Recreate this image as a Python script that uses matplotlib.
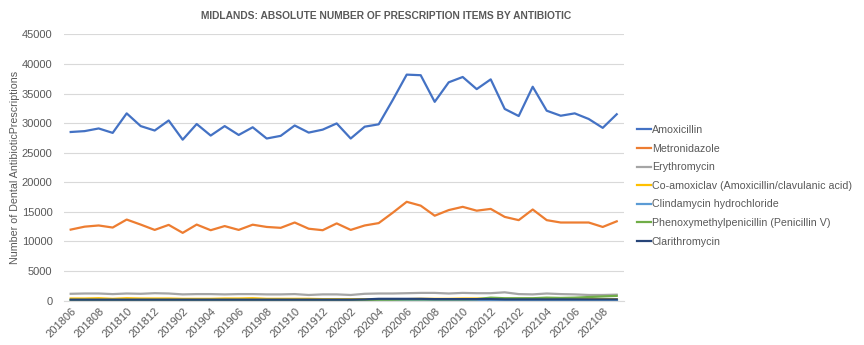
import matplotlib.pyplot as plt

# Months (YYYYMM) - Midlands dental antibiotic prescribing
months = ['201806', '201807', '201808', '201809', '201810', '201811', '201812', '201901',
          '201902', '201903', '201904', '201905', '201906', '201907', '201908', '201909',
          '201910', '201911', '201912', '202001', '202002', '202003', '202004', '202005',
          '202006', '202007', '202008', '202009', '202010', '202011', '202012', '202101',
          '202102', '202103', '202104', '202105', '202106', '202107', '202108', '202109']

amoxicillin = [28500, 28650, 29100, 28350, 31650, 29500, 28750, 30450, 27200, 29850,
               27900, 29500, 28000, 29300, 27400, 27850, 29600, 28400, 28900, 29950,
               27400, 29400, 29800, 33900, 38200, 38100, 33600, 36900, 37800, 35750,
               37400, 32400, 31200, 36150, 32100, 31250, 31650, 30700, 29200, 31500]
metronidazole = [12000, 12500, 12700, 12350, 13700, 12850, 11950, 12800, 11450, 12850,
                 11900, 12600, 11950, 12830, 12450, 12300, 13200, 12150, 11900, 13050,
                 11950, 12700, 13100, 14850, 16700, 16050, 14350, 15300, 15850, 15200,
                 15500, 14150, 13600, 15400, 13600, 13200, 13200, 13200, 12450, 13400]
erythromycin = [1150, 1200, 1200, 1100, 1200, 1150, 1250, 1200, 1050, 1100,
                1100, 1050, 1100, 1100, 1050, 1050, 1100, 950, 1050, 1050,
                950, 1150, 1200, 1200, 1250, 1300, 1300, 1200, 1300, 1250,
                1250, 1400, 1100, 1050, 1200, 1100, 1050, 950, 950, 1000]
co_amoxiclav = [350, 350, 400, 300, 400, 350, 350, 350, 300, 300,
                300, 350, 350, 400, 300, 300, 300, 300, 250, 250,
                250, 250, 250, 250, 250, 300, 300, 300, 350, 350,
                300, 300, 300, 300, 300, 300, 300, 250, 250, 250]
clindamycin = [100, 100, 100, 100, 100, 100, 100, 100, 100, 100,
               100, 100, 100, 100, 100, 100, 100, 100, 100, 100,
               100, 100, 100, 100, 100, 100, 100, 100, 100, 100,
               100, 100, 100, 100, 100, 100, 100, 100, 100, 100]
penicillin_v = [100, 100, 100, 100, 100, 100, 100, 100, 100, 100,
                100, 100, 100, 100, 100, 100, 100, 100, 100, 100,
                100, 100, 150, 150, 200, 200, 200, 200, 200, 250,
                500, 400, 400, 400, 500, 450, 500, 600, 700, 800]
clarithromycin = [150, 150, 150, 150, 150, 150, 150, 150, 150, 150,
                  150, 150, 150, 150, 150, 150, 150, 150, 150, 150,
                  150, 200, 300, 300, 300, 300, 250, 250, 250, 250,
                  250, 200, 200, 200, 200, 200, 200, 200, 200, 200]

series = [
    ('Amoxicillin', amoxicillin, '#4472C4'),
    ('Metronidazole', metronidazole, '#ED7D31'),
    ('Erythromycin', erythromycin, '#A5A5A5'),
    ('Co-amoxiclav (Amoxicillin/clavulanic acid)', co_amoxiclav, '#FFC000'),
    ('Clindamycin hydrochloride', clindamycin, '#5B9BD5'),
    ('Phenoxymethylpenicillin (Penicillin V)', penicillin_v, '#70AD47'),
    ('Clarithromycin', clarithromycin, '#264478'),
]

plt.rcParams['font.family'] = ['Liberation Sans', 'DejaVu Sans']

fig = plt.figure(figsize=(8.64, 3.45), dpi=100)
ax = fig.add_axes([0.0737, 0.1287, 0.6482, 0.7716])

x = range(len(months))
for name, vals, col in series:
    ax.plot(x, vals, color=col, linewidth=1.6, label=name)

ax.set_xlim(-0.5, len(months) - 0.5)
ax.set_ylim(0, 45000)
ax.set_yticks(range(0, 45001, 5000))
ax.set_xticks(list(x)[::2])
ax.set_xticklabels(months[::2], rotation=45, ha='right', rotation_mode='anchor')
ax.tick_params(axis='both', colors='#595959', labelsize=8, length=0)
ax.tick_params(axis='y', pad=8)
ax.tick_params(axis='x', pad=4)
ax.grid(axis='y', color='#D9D9D9', linewidth=0.8)
ax.set_axisbelow(True)
for s in ['top', 'right', 'left']:
    ax.spines[s].set_visible(False)
ax.spines['bottom'].set_color('#D9D9D9')

ax.set_ylabel('Number of Dental AntibioticPrescriptions', color='#595959', fontsize=7.7, labelpad=1.5)

fig.text(0.447, 0.955, 'MIDLANDS: ABSOLUTE NUMBER OF PRESCRIPTION ITEMS BY ANTIBIOTIC',
         ha='center', va='center', fontsize=7.4, fontweight='bold', color='#595959')

leg = ax.legend(loc='upper left', bbox_to_anchor=(1.016, 0.675), frameon=False,
                fontsize=7.7, handlelength=1.3, handletextpad=0.1, labelspacing=0.8,
                borderaxespad=0)
for t in leg.get_texts():
    t.set_color('#595959')

plt.savefig('out.png', dpi=100)
plt.close()
